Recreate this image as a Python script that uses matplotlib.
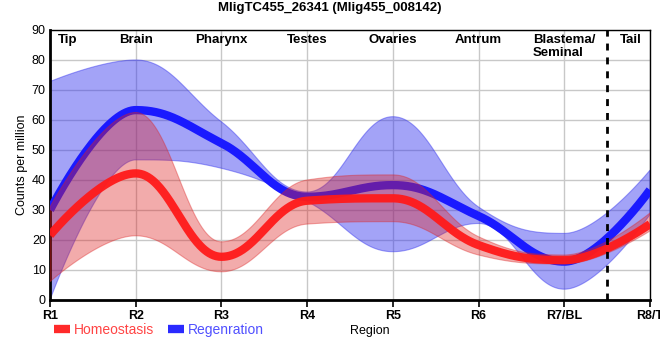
import numpy as np
import matplotlib
matplotlib.use("Agg")
import matplotlib.pyplot as plt
from matplotlib.lines import Line2D

plt.rcParams["font.family"] = ["Liberation Sans", "DejaVu Sans"]

# values
regions = ["R1", "R2", "R3", "R4", "R5", "R6", "R7/BL", "R8/T"]
tissues = ["Tip", "Brain", "Pharynx", "Testes", "Ovaries", "Antrum", "Blastema/\nSeminal", "Tail"]
tissue_pos = [0.21, 1.0, 2.0, 3.0, 4.0, 5.0, 6.0, 6.78]

homeo_mean = [21.6, 42.2, 14.4, 33.1, 33.9, 18.3, 13.3, 25.3]
homeo_low = [6.1, 21.4, 9.4, 25.3, 26.1, 15.0, 12.0, 23.0]
homeo_high = [31.0, 62.5, 19.4, 40.0, 41.7, 21.1, 15.0, 29.0]

regen_mean = [30.0, 63.3, 52.3, 34.4, 38.3, 28.0, 12.8, 36.7]
regen_low = [0.0, 46.7, 43.9, 32.8, 16.1, 25.5, 3.6, 28.5]
regen_high = [72.8, 80.0, 59.4, 36.0, 61.1, 31.0, 22.2, 43.3]


def spline(vals, smoothing=1.5, n=80):
    """Bezier spline through the points (same control point rule as a
    typical web chart 'spline' series). Only used to draw the curves."""
    y = np.asarray(vals, float)
    x = np.arange(len(y), dtype=float)
    k = len(y)
    den = smoothing + 1
    lc = [(x[i], y[i]) for i in range(k)]
    rc = [(x[i], y[i]) for i in range(k)]
    for i in range(1, k - 1):
        lx = (smoothing * x[i] + x[i - 1]) / den
        ly = (smoothing * y[i] + y[i - 1]) / den
        rx = (smoothing * x[i] + x[i + 1]) / den
        ry = (smoothing * y[i] + y[i + 1]) / den
        corr = (ry - ly) * (rx - x[i]) / (rx - lx) + y[i] - ry
        ly += corr
        ry += corr
        if ly > y[i - 1] and ly > y[i]:
            ly = max(y[i - 1], y[i])
            ry = 2 * y[i] - ly
        elif ly < y[i - 1] and ly < y[i]:
            ly = min(y[i - 1], y[i])
            ry = 2 * y[i] - ly
        if ry > y[i + 1] and ry > y[i]:
            ry = max(y[i + 1], y[i])
            ly = 2 * y[i] - ry
        elif ry < y[i + 1] and ry < y[i]:
            ry = min(y[i + 1], y[i])
            ly = 2 * y[i] - ry
        lc[i] = (lx, ly)
        rc[i] = (rx, ry)
    t = np.linspace(0, 1, n)[:, None]
    pts = []
    for i in range(k - 1):
        p0 = np.array([x[i], y[i]])
        p1 = np.array(rc[i])
        p2 = np.array(lc[i + 1])
        p3 = np.array([x[i + 1], y[i + 1]])
        seg = ((1 - t) ** 3 * p0 + 3 * (1 - t) ** 2 * t * p1
               + 3 * (1 - t) * t ** 2 * p2 + t ** 3 * p3)
        pts.append(seg if i == 0 else seg[1:])
    pts = np.vstack(pts)
    return pts[:, 0], pts[:, 1]


def band(ax, low, high, color, alpha, z):
    xl, yl = spline(low)
    xh, yh = spline(high)
    ax.fill(np.concatenate([xh, xl[::-1]]), np.concatenate([yh, yl[::-1]]),
            facecolor=color, alpha=alpha, edgecolor=color, lw=0.8, zorder=z)


xpos = np.arange(len(regions))

fig = plt.figure(figsize=(6.6, 3.6), dpi=100)
ax = fig.add_axes([50 / 660, 1 - 300 / 360, 600 / 660, 270 / 360])

# regeneration underneath, homeostasis on top
band(ax, regen_low, regen_high, "#3333ee", 0.45, 2)
ax.plot(*spline(regen_mean), color="#1a1aff", lw=6, zorder=3, solid_capstyle="butt")
band(ax, homeo_low, homeo_high, "#dd2222", 0.38, 4)
ax.plot(*spline(homeo_mean), color="#ff1a1a", lw=6, alpha=0.95, zorder=5,
        solid_capstyle="butt")

ax.axvline(6.5, color="black", lw=2, ls=(0, (2.5, 2.5)), zorder=6)

for name, pos in zip(tissues, tissue_pos):
    ax.text(pos, 88.8, name, ha="center", va="top", multialignment="left",
            fontsize=9.5, fontweight="bold", linespacing=1.2, zorder=7)

ax.set_xlim(0, len(regions) - 1)
ax.set_ylim(0, 90)
ax.set_xticks(xpos)
ax.set_xticklabels(regions, fontsize=9, fontweight="bold")
ax.set_yticks(np.arange(0, 91, 10))
ax.tick_params(axis="y", length=0, labelsize=9, pad=3)
ax.tick_params(axis="x", length=5, width=1.2, pad=2)
ax.grid(color="#c8c8c8", lw=1)
ax.set_axisbelow(True)

ax.spines["left"].set_linewidth(2)
ax.spines["bottom"].set_linewidth(2)
ax.spines["top"].set_linewidth(1)
ax.spines["right"].set_linewidth(1)

ax.set_ylabel("Counts per million", fontsize=9, labelpad=3)
fig.text(370 / 660, 1 - 331 / 360, "Region", ha="center", va="center", fontsize=9)
fig.suptitle("MligTC455_26341 (Mlig455_008142)", x=0.5, y=1 - 8 / 360,
             va="center", fontsize=9.5, fontweight="bold")

handles = [Line2D([], [], color="#ff2a2a", lw=6, solid_capstyle="butt"),
           Line2D([], [], color="#2a2aff", lw=6, solid_capstyle="butt")]
leg = fig.legend(handles, ["Homeostasis", "Regenration"], ncol=2, frameon=False,
                 loc="center left", bbox_to_anchor=(41 / 660, 1 - 330 / 360),
                 fontsize=10, handlelength=1.2, handletextpad=0.25, columnspacing=1.0)
for txt, col in zip(leg.get_texts(), ["#ff4444", "#5050ff"]):
    txt.set_color(col)

fig.savefig("out.png", dpi=100)
